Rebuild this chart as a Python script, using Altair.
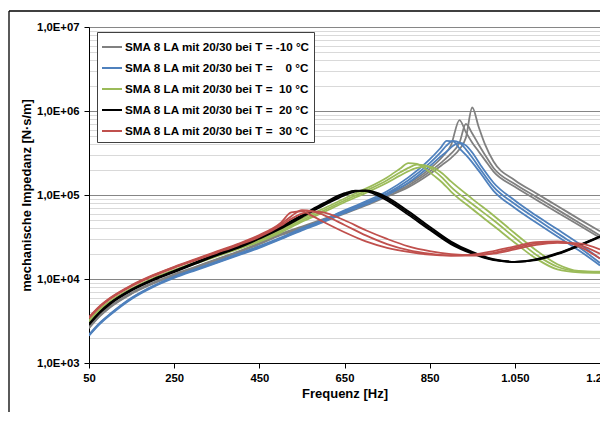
import altair as alt
import pandas as pd

NB = "\u00a0"
series_labels = [
    "SMA 8 LA mit 20/30 bei T = -10 °C",
    "SMA 8 LA mit 20/30 bei T = " + NB * 3 + "0 °C",
    "SMA 8 LA mit 20/30 bei T = " + NB + "10 °C",
    "SMA 8 LA mit 20/30 bei T = " + NB + "20 °C",
    "SMA 8 LA mit 20/30 bei T = " + NB + "30 °C",
]
series_colors = ["#808080", "#4f81bd", "#9bbb59", "#000000", "#c0504d"]

x_ticks = [50, 250, 450, 650, 850, 1050, 1250]
y_major = [1e3, 1e4, 1e5, 1e6, 1e7]
y_minor = [m * 10 ** e for e in range(3, 7) for m in range(2, 10)]

# -10 °C (gray)
gray_f = [50, 75, 100, 150, 200, 250, 300, 350, 400, 450, 500, 550, 600, 650, 700, 750, 800, 850,
          880, 900, 920, 935, 950, 965, 980, 1000, 1050, 1100, 1150, 1200, 1250]
gray_a = [2670, 3680, 4750, 6860, 9040, 11400, 14000, 17300, 21200, 26800, 34600, 42000, 51500, 64000,
          81000, 104000, 137000, 205000, 285000, 390000, 780000, 560000, 420000, 330000, 260000, 190000,
          125000, 88000, 62000, 44000, 31000]
gray_b = [2630, 3630, 4680, 6760, 8910, 11200, 13800, 17000, 20900, 26300, 33900, 41000, 50000, 62000,
          78000, 100000, 130000, 190000, 250000, 310000, 420000, 700000, 540000, 400000, 300000, 210000,
          135000, 95000, 67000, 47000, 33000]
gray_c = [2590, 3580, 4610, 6660, 8780, 11000, 13600, 16700, 20600, 25900, 33200, 40000, 48500, 60000,
          75000, 96000, 124000, 178000, 230000, 275000, 350000, 480000, 1100000, 650000, 400000, 250000,
          150000, 105000, 74000, 52000, 37000]

# 0 °C (blue)
blue_f = [50, 75, 100, 150, 200, 250, 300, 350, 400, 450, 500, 550, 600, 650, 700, 750, 800, 850,
          875, 890, 905, 920, 935, 950, 970, 1000, 1050, 1100, 1150, 1200, 1250]
blue_a = [2170, 3000, 3860, 5980, 8250, 10700, 13100, 16100, 19900, 24600, 31100, 40000, 50500, 65500,
          84000, 111000, 162000, 265000, 360000, 440000, 435000, 360000, 300000, 245000, 180000, 112000,
          70000, 47000, 32000, 22000, 14500]
blue_b = [2140, 2950, 3800, 5890, 8130, 10500, 12900, 15800, 19500, 24000, 30200, 39000, 49000, 63000,
          80000, 105000, 150000, 240000, 320000, 390000, 440000, 420000, 350000, 280000, 200000, 125000,
          78000, 52000, 35000, 24000, 15500]
blue_c = [2110, 2900, 3740, 5800, 8010, 10300, 12700, 15500, 19100, 23500, 29700, 38000, 47500, 61000,
          77000, 100000, 140000, 220000, 285000, 330000, 385000, 420000, 390000, 320000, 225000, 140000,
          86000, 57000, 39000, 26500, 17500]

# 10 °C (green)
green_f = [50, 75, 100, 150, 200, 250, 300, 350, 400, 450, 500, 550, 600, 650, 700, 750, 780, 800,
           820, 840, 860, 880, 900, 950, 1000, 1050, 1100, 1150, 1200, 1250]
green_a = [3210, 4340, 5450, 7720, 10200, 12800, 15800, 19600, 24100, 29800, 38800, 52500, 68500, 91000,
           119000, 162000, 205000, 240000, 235000, 205000, 170000, 140000, 110000, 68000, 43000, 27000,
           17500, 13000, 12000, 11800]
green_b = [3160, 4270, 5370, 7590, 10000, 12600, 15500, 19100, 23400, 28800, 37200, 50000, 65000, 86000,
           112000, 150000, 185000, 210000, 230000, 225000, 195000, 160000, 125000, 78000, 50000, 31000,
           19500, 14000, 12300, 12000]
green_c = [3110, 4200, 5290, 7460, 9820, 12400, 15200, 18600, 22700, 27800, 35600, 48000, 62000, 82000,
           106000, 140000, 170000, 192000, 210000, 220000, 210000, 180000, 145000, 90000, 57000, 35000,
           22000, 15000, 12500, 12200]

# 20 °C (black)
black_f = [50, 75, 100, 150, 200, 250, 300, 350, 400, 450, 500, 550, 600, 650, 675, 700, 725, 750,
           800, 850, 900, 950, 1000, 1050, 1100, 1150, 1200, 1250]
black_a = [2920, 4040, 5210, 7530, 9930, 12500, 15800, 19900, 24600, 31600, 42000, 57500, 79500, 105000,
           113000, 111000, 100000, 86000, 58000, 38500, 26000, 20000, 16800, 16000, 17200, 20300, 25300,
           32300]
black_b = [2880, 3980, 5130, 7410, 9770, 12300, 15500, 19500, 24000, 30900, 40700, 56000, 77000, 102000,
           112000, 113000, 104000, 90000, 61000, 40000, 27000, 20500, 17000, 16000, 17000, 20000, 25000,
           32000]
black_c = [2840, 3920, 5050, 7290, 9610, 12100, 15200, 19100, 23400, 30200, 39700, 54500, 74500, 99000,
           110000, 113500, 107000, 94000, 64000, 42000, 28000, 21000, 17200, 16000, 16800, 19700, 24700,
           31700]

# 30 °C (red)
red_f = [50, 75, 100, 150, 200, 250, 300, 350, 400, 450, 500, 525, 550, 575, 600, 650, 700, 750, 800,
         850, 900, 950, 1000, 1050, 1100, 1150, 1200, 1250]
red_a = [3520, 4750, 5980, 8450, 11100, 14000, 17300, 21300, 26200, 33400, 46500, 62000, 64000, 56000,
         48000, 36000, 28000, 23500, 21000, 19500, 19000, 19500, 21500, 24500, 27500, 28000, 24500, 17500]
red_b = [3470, 4680, 5890, 8320, 10960, 13800, 17000, 20900, 25700, 32400, 44700, 56000, 66000, 64000,
         58000, 44000, 33000, 26000, 22000, 20000, 19000, 19000, 20500, 23500, 26500, 27500, 25500, 20000]
red_c = [3420, 4610, 5800, 8190, 10800, 13600, 16700, 20500, 25200, 31600, 43000, 52000, 60000, 64000,
         62000, 50000, 38000, 30000, 24500, 21500, 19800, 19200, 20000, 22500, 25500, 27000, 26500, 22500]

blocks = [
    (series_labels[0], gray_f, [gray_a, gray_b, gray_c]),
    (series_labels[1], blue_f, [blue_a, blue_b, blue_c]),
    (series_labels[2], green_f, [green_a, green_b, green_c]),
    (series_labels[3], black_f, [black_a, black_b, black_c]),
    (series_labels[4], red_f, [red_a, red_b, red_c]),
]
rows = []
for si, (label, freqs, reps) in enumerate(blocks):
    for r, vals in enumerate(reps):
        for f, v in zip(freqs, vals):
            rows.append({"f": f, "z": v, "serie": label, "rep": f"{si}-{r}"})
df = pd.DataFrame(rows)

FONT = "Liberation Sans"
major_test = "abs(log(datum.value)/LN10 - round(log(datum.value)/LN10)) < 0.001"

x_axis = alt.Axis(
    values=x_ticks,
    labelExpr="datum.value >= 1000 ? replace(format(datum.value, ','), ',', '.') : format(datum.value, 'd')",
    title="Frequenz [Hz]",
    grid=False, tickSize=5, labelPadding=4, titlePadding=4,
    domainColor="#000000", tickColor="#000000",
    labelFont=FONT, labelFontWeight="bold", labelFontSize=11.3, labelColor="#000000",
    titleFont=FONT, titleFontWeight="bold", titleFontSize=13, titleColor="#000000",
    labelOverlap=False, labelFlush=False,
)
y_axis = alt.Axis(
    values=y_major + y_minor,
    labelExpr=major_test + " ? '1,0E+0' + round(log(datum.value)/LN10) : ''",
    title="mechanische Impedanz [N·s/m]",
    grid=True,
    gridColor={"condition": {"test": major_test, "value": "#868686"}, "value": "#d9d9d9"},
    tickColor={"condition": {"test": major_test, "value": "#000000"}, "value": "transparent"},
    tickSize=5, labelPadding=5, titlePadding=3,
    domainColor="#000000",
    labelFont=FONT, labelFontWeight="bold", labelFontSize=11.3, labelColor="#000000",
    titleFont=FONT, titleFontWeight="bold", titleFontSize=12.9, titleColor="#000000",
    labelOverlap=False, labelFlush=False, labelBound=False,
)
legend = alt.Legend(
    orient="none", legendX=8, legendY=5, title=None,
    labelFont=FONT, labelFontWeight="bold", labelFontSize=11.7, labelColor="#000000",
    symbolType="stroke", symbolStrokeWidth=2, symbolSize=400,
    strokeColor="#404040", fillColor="white", padding=4, rowPadding=3, labelOffset=2,
    labelLimit=400,
)

lines = alt.Chart(df).mark_line(interpolate="monotone", strokeWidth=1.8, clip=True).encode(
    x=alt.X("f:Q", scale=alt.Scale(domain=[50, 1250], nice=False, zero=False), axis=x_axis),
    y=alt.Y("z:Q", scale=alt.Scale(type="log", domain=[1e3, 1e7], nice=False), axis=y_axis),
    color=alt.Color("serie:N", scale=alt.Scale(domain=series_labels, range=series_colors), legend=legend),
    detail="rep:N",
)

PW, PH = 511, 336
# outer chart frame (decoration: left and top edges of the surrounding box)
frame_src = alt.Chart(pd.DataFrame({"k": [0]}))
frame_top = frame_src.mark_rule(stroke="#000000", strokeWidth=1.3).encode(
    x=alt.value(-80), x2=alt.value(PW), y=alt.value(-16))
frame_left = frame_src.mark_rule(stroke="#000000", strokeWidth=1.3).encode(
    x=alt.value(-80), y=alt.value(-16), y2=alt.value(385))

chart = alt.layer(frame_top, frame_left, lines).properties(
    width=PW, height=PH,
    padding={"left": 81, "top": 19, "right": 0, "bottom": 49},
    autosize=alt.AutoSizeParams(type="none"),
).configure_view(stroke="#868686", strokeWidth=1).configure(font=FONT)

chart.save("out.html", embed_options={"renderer": "svg", "actions": False})
